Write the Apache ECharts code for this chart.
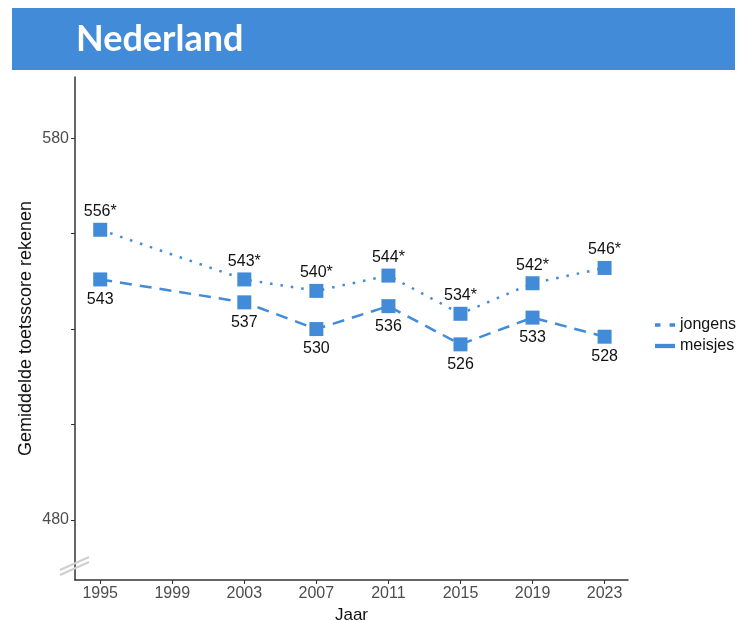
<!DOCTYPE html>
<html><head><meta charset="utf-8">
<script src="https://cdn.jsdelivr.net/npm/echarts@6/dist/echarts.min.js"></script>
<style>html,body{margin:0;padding:0;background:#fff}#c{width:747px;height:620px}</style>
</head><body><div id="c"></div>
<script>
const years = [1995, 2003, 2007, 2011, 2015, 2019, 2023];
const jongens = [556, 543, 540, 544, 534, 542, 546];
const meisjes = [543, 537, 530, 536, 526, 533, 528];
const jongensSig = ['*', '*', '*', '*', '*', '*', '*'];
const xTicks = [1995, 1999, 2003, 2007, 2011, 2015, 2019, 2023];
const yTicks = [480, 505, 530, 555, 580];
const yLabels = [480, 580];

const blue = '#428BD8';
const chart = echarts.init(document.getElementById('c'));
const font = 'Liberation Sans, Arial, sans-serif';

chart.setOption({
  animation: false,
  graphic: [
    { type: 'rect', left: 12, top: 8, shape: { width: 723, height: 62 }, style: { fill: blue }, z: 0 },
    { type: 'text', left: 76, top: 21, style: { text: 'Nederland', fill: '#fff', font: 'bold 36px Lato, "Open Sans", sans-serif' }, z: 1 },
    { type: 'line', shape: { x1: 60, y1: 570, x2: 89, y2: 557 }, style: { stroke: '#cfcfcf', lineWidth: 2 }, z: 10 },
    { type: 'line', shape: { x1: 60, y1: 575, x2: 89, y2: 562 }, style: { stroke: '#cfcfcf', lineWidth: 2 }, z: 10 }
  ],
  grid: { left: 75, right: 119, top: 77, bottom: 40, containLabel: false, outerBoundsMode: 'none' },
  legend: {
    orient: 'vertical', left: 650, top: 312, itemGap: 5, itemWidth: 20, itemHeight: 10,
    textStyle: { fontFamily: font, fontSize: 16, color: '#111' },
    data: [
      { name: 'jongens', icon: 'path://M0,4 L3,4 L3,6 L0,6 Z M8,4 L11,4 L11,6 L8,6 Z', itemStyle: { color: blue } },
      { name: 'meisjes', icon: 'path://M0,3.5 L14,3.5 L14,6.5 L0,6.5 Z', itemStyle: { color: blue } }
    ]
  },
  xAxis: {
    type: 'value', min: 1993.6, max: 2024.3,
    name: 'Jaar', nameLocation: 'middle', nameGap: 27,
    nameTextStyle: { fontFamily: font, fontSize: 17, color: '#111' },
    axisLine: { show: true, onZero: false, lineStyle: { color: '#333', width: 1.5 } },
    axisTick: { show: true, length: 4, customValues: xTicks, lineStyle: { color: '#333' } },
    axisLabel: { customValues: xTicks, formatter: v => String(v), fontFamily: font, fontSize: 16, color: '#4d4d4d', margin: 6 },
    splitLine: { show: false }
  },
  yAxis: {
    type: 'value', min: 464.3, max: 596,
    name: 'Gemiddelde toetsscore rekenen', nameLocation: 'middle', nameGap: 40, nameRotate: 90,
    nameMoveOverlap: false,
    nameTextStyle: { fontFamily: font, fontSize: 18, color: '#111' },
    axisLine: { show: true, onZero: false, lineStyle: { color: '#333', width: 1.5 } },
    axisTick: { show: true, length: 4, customValues: yTicks, lineStyle: { color: '#333' } },
    axisLabel: { customValues: yLabels, formatter: v => String(v), fontFamily: font, fontSize: 16, color: '#4d4d4d', margin: 6 },
    splitLine: { show: false }
  },
  series: [
    {
      name: 'jongens', type: 'line',
      data: years.map((y, i) => [y, jongens[i]]),
      symbol: 'rect', symbolSize: 14,
      itemStyle: { color: blue },
      lineStyle: { color: blue, width: 2.5, type: [2.5, 8] },
      label: {
        show: true, position: 'top', distance: 3,
        formatter: p => jongens[p.dataIndex] + jongensSig[p.dataIndex],
        fontFamily: font, fontSize: 16, color: '#111'
      },
      z: 3
    },
    {
      name: 'meisjes', type: 'line',
      data: years.map((y, i) => [y, meisjes[i]]),
      symbol: 'rect', symbolSize: 14,
      itemStyle: { color: blue },
      lineStyle: { color: blue, width: 2.5, type: [12, 8] },
      label: {
        show: true, position: 'bottom', distance: 5,
        formatter: p => String(meisjes[p.dataIndex]),
        fontFamily: font, fontSize: 16, color: '#111'
      },
      z: 3
    }
  ]
});
</script>
</body></html>
